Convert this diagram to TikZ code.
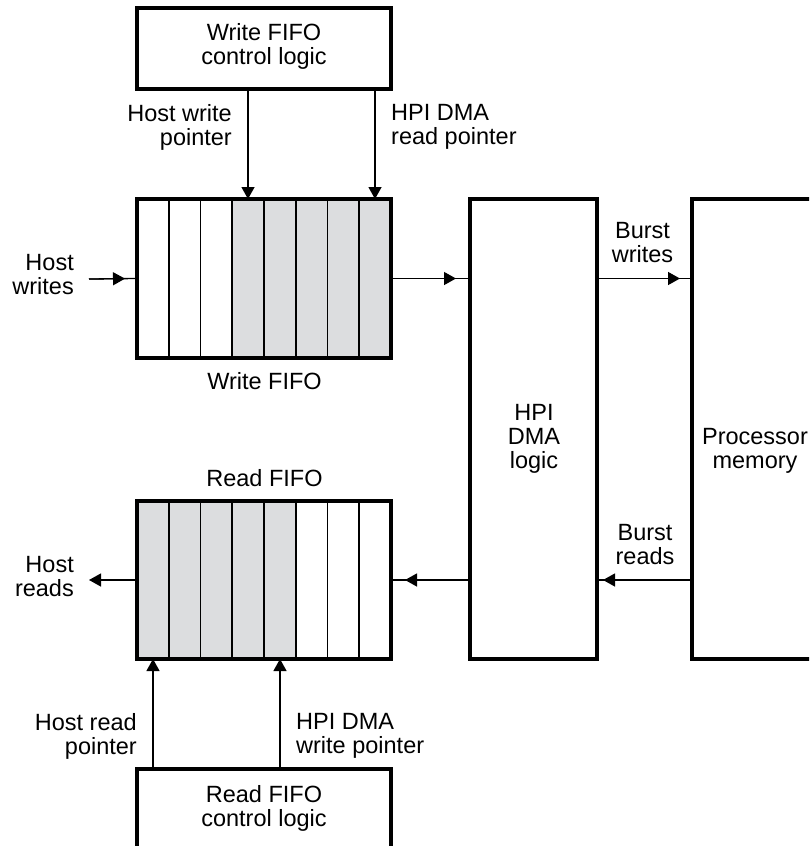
\documentclass[tikz,border=0pt]{standalone}
\usepackage{fontspec}
\setmainfont{Liberation Sans}
\usetikzlibrary{arrows.meta}
\definecolor{cellgray}{RGB}{220,221,223}
\begin{document}
\begin{tikzpicture}[x=1pt,y=-1pt,
  box/.style={draw, line width=3.8pt, outer sep=0pt, inner sep=0pt},
  shell/.style={outer sep=0pt, inner sep=0pt, minimum width=254pt},
  border/.style={line width=3.8pt},
  cellline/.style={line width=1.8pt},
  lbl/.style={font=\fontsize{23.5}{24}\selectfont, align=center, inner sep=0pt},
  conn/.style={line width=1.3pt},
  tip/.style={-{Triangle[length=12pt,width=13pt]}, line width=1.3pt}]
\useasboundingbox (0,0) rectangle (809,846);
\clip (0,0) rectangle (809,846);

% main blocks
\node[box, minimum width=254pt, minimum height=81pt] (wctl) at (264,48.5) {};
\node[lbl] (wctltxt) at (264,46.5) {Write FIFO\\control logic};

\node[shell, minimum height=159pt] (wfifo) at (264,278.5) {};
\fill[cellgray] (232.25,199) rectangle (391,358);
\foreach \k in {1,...,7} \draw[cellline] (137+\k*31.75,199) -- (137+\k*31.75,358);
\draw[border] (wfifo.south west) rectangle (wfifo.north east);

\node[shell, minimum height=158pt] (rfifo) at (264,580) {};
\fill[cellgray] (137,501) rectangle (295.75,659);
\foreach \k in {1,...,7} \draw[cellline] (137+\k*31.75,501) -- (137+\k*31.75,659);
\draw[border] (rfifo.south west) rectangle (rfifo.north east);

\node[box, minimum width=254pt, minimum height=81pt] (rctl) at (264,809.5) {};
\node[lbl] (rctltxt) at (264,808.5) {Read FIFO\\control logic};

\node[box, minimum width=127pt, minimum height=460pt] (hpi) at (533.5,429) {};
\node[lbl] (hpitxt) at (534,438.5) {HPI\\DMA\\logic};

\node[box, minimum width=127pt, minimum height=460pt] (pm) at (755.5,429) {};
\node[lbl] (pmtxt) at (755,450.5) {Processor\\memory};

% labels
\node[lbl, anchor=east, align=right] (hwplbl) at (232,127) {Host write\\pointer};
\node[lbl, anchor=west, align=left] (drplbl) at (391,127) {HPI DMA\\read pointer};
\node[lbl, anchor=east, align=right] (hwlbl) at (74,274.5) {Host\\writes};
\node[lbl] (wflbl) at (264.5,381) {Write FIFO};
\node[lbl] (bwlbl) at (642.5,243) {Burst\\writes};
\node[lbl] (brlbl) at (645,545) {Burst\\reads};
\node[lbl] (rflbl) at (264.5,478.5) {Read FIFO};
\node[lbl, anchor=east, align=right] (hrlbl) at (74,577) {Host\\reads};
\node[lbl, anchor=east, align=right] (hrplbl) at (137,736) {Host read\\pointer};
\node[lbl, anchor=west, align=left] (dwplbl) at (296,736) {HPI DMA\\write pointer};

% free ends and pointer columns
\coordinate (hwin) at (89,279);
\coordinate (hrout) at (89,580);
\coordinate (hwp) at (248,0);
\coordinate (drp) at (375,0);
\coordinate (hrp) at (153,0);
\coordinate (dwp) at (280,0);

% connectors
\draw[conn] (hwin) -- (wfifo.west);
\draw[tip, shorten >=12pt] (hwin) -- (wfifo.west);

\draw[conn] (wfifo.east) -- (wfifo.east -| hpi.west);
\draw[tip, shorten >=14pt] (wfifo.east) -- (wfifo.east -| hpi.west);

\draw[conn] (wfifo.east -| hpi.east) -- (wfifo.east -| pm.west);
\draw[tip, shorten >=12pt] (wfifo.east -| hpi.east) -- (wfifo.east -| pm.west);

\draw[conn] (rfifo.east -| pm.west) -- (rfifo.east -| hpi.east);
\draw[tip, shorten >=6pt] (rfifo.east -| pm.west) -- (rfifo.east -| hpi.east);

\draw[conn] (rfifo.east -| hpi.west) -- (rfifo.east);
\draw[tip, shorten >=14pt] (rfifo.east -| hpi.west) -- (rfifo.east);

\draw[tip] (rfifo.west) -- (hrout);

\draw[tip] (wctl.south -| hwp) -- (wfifo.north -| hwp);
\draw[tip] (wctl.south -| drp) -- (wfifo.north -| drp);
\draw[tip] (rctl.north -| hrp) -- (rfifo.south -| hrp);
\draw[tip] (rctl.north -| dwp) -- (rfifo.south -| dwp);
\end{tikzpicture}
\end{document}
